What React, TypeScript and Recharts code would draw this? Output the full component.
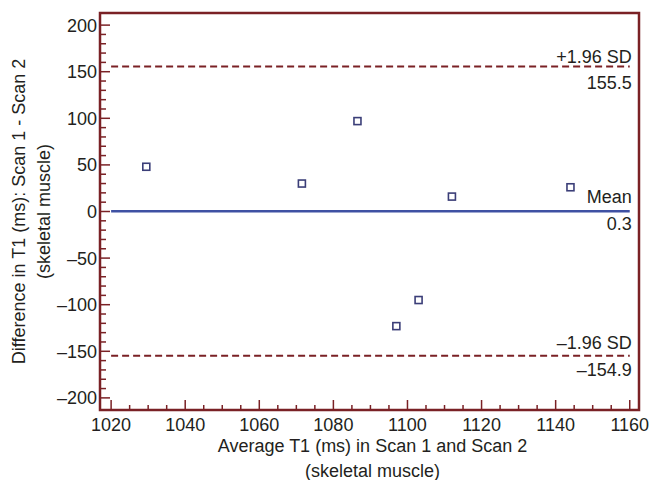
import React from 'react'
import { ScatterChart, Scatter, XAxis, YAxis, ReferenceLine, ReferenceArea } from 'recharts'

// Bland-Altman data: average of the two scans vs their difference (ms)
const avgT1 = [1029.5, 1071.5, 1086.5, 1097, 1103, 1112, 1144]
const diffT1 = [48, 30, 97, -123, -95, 16, 26]

const xMajorTicks = [1020, 1040, 1060, 1080, 1100, 1120, 1140, 1160]
const yMajorTicks = [-200, -150, -100, -50, 0, 50, 100, 150, 200]

const limitNames = ['+1.96 SD', 'Mean', '\u20131.96 SD']
const limitValues = [155.5, 0.3, -154.9]
const limitTexts = ['155.5', '0.3', '\u2013154.9']

const xTitle = ['Average T1 (ms) in Scan 1 and Scan 2', '(skeletal muscle)']
const yTitle = ['Difference in T1 (ms): Scan 1 - Scan 2', '(skeletal muscle)']

const points = avgT1.map((x, i) => ({ x, y: diffT1[i] }))

const xMinor: number[] = []
for (let v = 1020; v <= 1160; v += 5) xMinor.push(v)
const yMinor: number[] = []
for (let v = -200; v <= 200; v += 10) yMinor.push(v)

const FRAME = '#7a2125'
const MEAN = '#3f51a3'
const MARK = '#3b3e78'
const INK = '#231f20'
const FONT = '"Liberation Sans", Arial, Helvetica, sans-serif'

const fmt = (v: number) => (v < 0 ? '\u2013' + Math.abs(v) : String(v))

const YTick = (props: any) => {
  const { x, y, payload } = props
  const v = payload.value
  const major = yMajorTicks.includes(v)
  const ax = x + 3
  return (
    <g>
      <line x1={ax} x2={ax + (major ? 10 : 6)} y1={y} y2={y} stroke={FRAME} strokeWidth={1.5} />
      {major && (
        <text x={x} y={y} dy="0.36em" textAnchor="end" fill={INK} fontSize={18} fontFamily={FONT}>
          {fmt(v)}
        </text>
      )}
    </g>
  )
}

const XTick = (props: any) => {
  const { x, y, payload } = props
  const v = payload.value
  const major = xMajorTicks.includes(v)
  return (
    <g>
      <line x1={x} x2={x} y1={y} y2={y - (major ? 10 : 5)} stroke={FRAME} strokeWidth={1.5} />
      {major && (
        <text x={x} y={y + 21} textAnchor="middle" fill={INK} fontSize={18} fontFamily={FONT}>
          {fmt(v)}
        </text>
      )}
    </g>
  )
}

const YTitle = (props: any) => {
  const { viewBox } = props
  const cy = viewBox.y + viewBox.height / 2
  return (
    <g fill={INK} fontSize={18} fontFamily={FONT} textAnchor="middle">
      <text transform={`translate(25, ${cy}) rotate(-90)`}>{yTitle[0]}</text>
      <text transform={`translate(50, ${cy}) rotate(-90)`}>{yTitle[1]}</text>
    </g>
  )
}

const XTitle = (props: any) => {
  const { viewBox } = props
  const cx = viewBox.x + viewBox.width / 2 + 3
  return (
    <g fill={INK} fontSize={18} fontFamily={FONT} textAnchor="middle">
      <text x={cx} y={452}>{xTitle[0]}</text>
      <text x={cx} y={477}>{xTitle[1]}</text>
    </g>
  )
}

const LimitLabel = (props: any) => {
  const { viewBox, name, text, up, down } = props
  const right = viewBox.x + viewBox.width + 2
  return (
    <g fill={INK} fontSize={18} fontFamily={FONT} textAnchor="end">
      <text x={right} y={viewBox.y - up}>{name}</text>
      <text x={right} y={viewBox.y + down}>{text}</text>
    </g>
  )
}

const Square = (props: any) => {
  const { cx, cy } = props
  return <rect x={cx - 3.5} y={cy - 3.5} width={7} height={7} fill="#fff" stroke={MARK} strokeWidth={1.6} />
}

const labelGaps = [
  { up: 4, down: 22 },
  { up: 8, down: 19 },
  { up: 7, down: 20 },
]

export default function App() {
  return (
    <div style={{ position: 'absolute', left: 0, top: 0, width: 654, height: 480, background: '#fff' }}>
      <ScatterChart width={654} height={480} margin={{ top: 13, right: 15, bottom: 0, left: 0 }}>
        <XAxis
          type="number"
          dataKey="x"
          domain={[1017, 1162.5]}
          ticks={xMinor}
          interval={0}
          tickSize={0}
          tickMargin={0}
          tickLine={false}
          axisLine={false}
          tick={<XTick />}
          height={70}
          label={<XTitle />}
        />
        <YAxis
          type="number"
          dataKey="y"
          domain={[-213, 213]}
          ticks={yMinor}
          interval={0}
          tickSize={0}
          tickMargin={3}
          tickLine={false}
          axisLine={false}
          tick={<YTick />}
          width={100}
          label={<YTitle />}
        />
        <ReferenceArea x1={1017} x2={1162.5} y1={-213} y2={213} fill="none" stroke={FRAME} strokeWidth={2.5} />
        {limitValues.map((v, i) => (
          <ReferenceLine
            key={limitNames[i]}
            segment={[{ x: 1020, y: v }, { x: 1160, y: v }]}
            stroke={i === 1 ? MEAN : FRAME}
            strokeWidth={i === 1 ? 2.5 : 2}
            strokeDasharray={i === 1 ? undefined : '7 4'}
            label={<LimitLabel name={limitNames[i]} text={limitTexts[i]} up={labelGaps[i].up} down={labelGaps[i].down} />}
          />
        ))}
        <Scatter data={points} shape={<Square />} isAnimationActive={false} />
      </ScatterChart>
    </div>
  )
}
